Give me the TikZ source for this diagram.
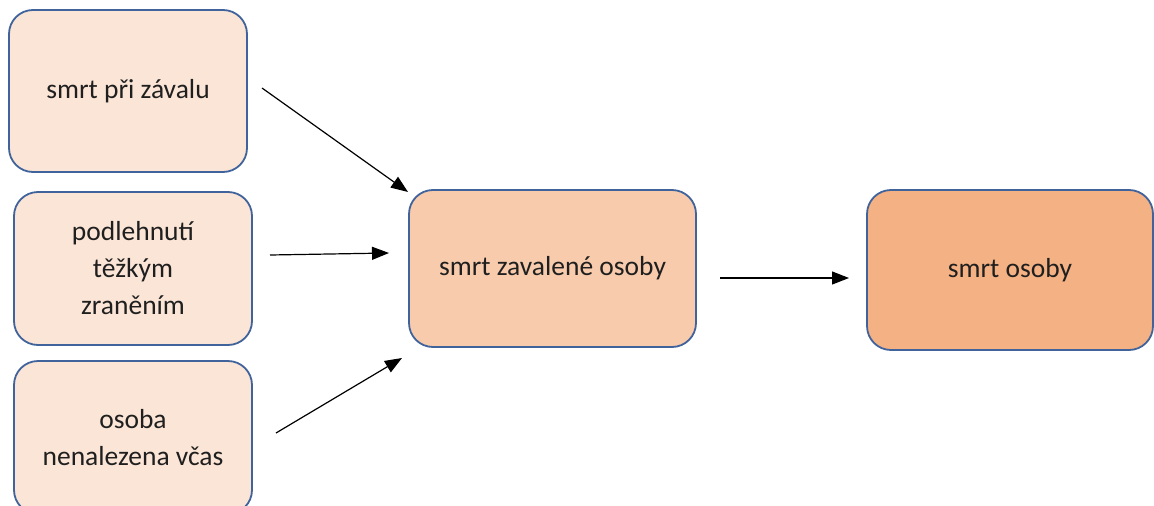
\documentclass[tikz,border=0pt]{standalone}
\usepackage{fontspec}
\setmainfont{Carlito}
\usetikzlibrary{arrows.meta}
\definecolor{bordblue}{HTML}{41639C}
\definecolor{fillA}{HTML}{FBE5D6}
\definecolor{fillB}{HTML}{F8CBAD}
\definecolor{fillC}{HTML}{F4B183}
\definecolor{txt}{HTML}{1F1F1F}
\tikzset{
  box/.style={draw=bordblue, line width=1.8pt, rounded corners=24pt, inner sep=0pt,
    align=center, text=txt, font=\fontsize{27.5}{37}\selectfont, anchor=center},
  conn/.style={line width=1.2pt, -{Triangle[length=17pt,width=13pt]}}
}
\begin{document}
\begin{tikzpicture}[x=1pt,y=-1pt]
\clip (0,0) rectangle (1154,506);
\fill[white] (0,0) rectangle (1154,506);
\node[box, fill=fillA, minimum width=238pt, minimum height=162pt] (b1) at (128,91) {smrt při závalu};
\node[box, fill=fillA, minimum width=238pt, minimum height=153pt] (b2) at (133,268.5) {podlehnutí\\těžkým\\zraněním};
\node[box, fill=fillA, minimum width=238pt, minimum height=153pt] (b3) at (133,437.5) {osoba\\nenalezena včas};
\node[box, fill=fillB, minimum width=287pt, minimum height=157pt] (b4) at (552.5,268.5) {smrt zavalené osoby};
\node[box, fill=fillC, minimum width=286pt, minimum height=160pt] (b5) at (1010,270) {smrt osoby};
\coordinate (a1s) at (262,88);
\coordinate (a1e) at (408,192);
\coordinate (a2s) at (270,255);
\coordinate (a2e) at (389,253);
\coordinate (a3s) at (276,433);
\coordinate (a3e) at (402,358);
\coordinate (a4s) at (720,278);
\coordinate (a4e) at (849,278);
\draw[conn] (a1s) -- (a1e);
\draw[conn] (a2s) -- (a2e);
\draw[conn] (a3s) -- (a3e);
\draw[conn] (a4s) -- (a4e);
\end{tikzpicture}
\end{document}
